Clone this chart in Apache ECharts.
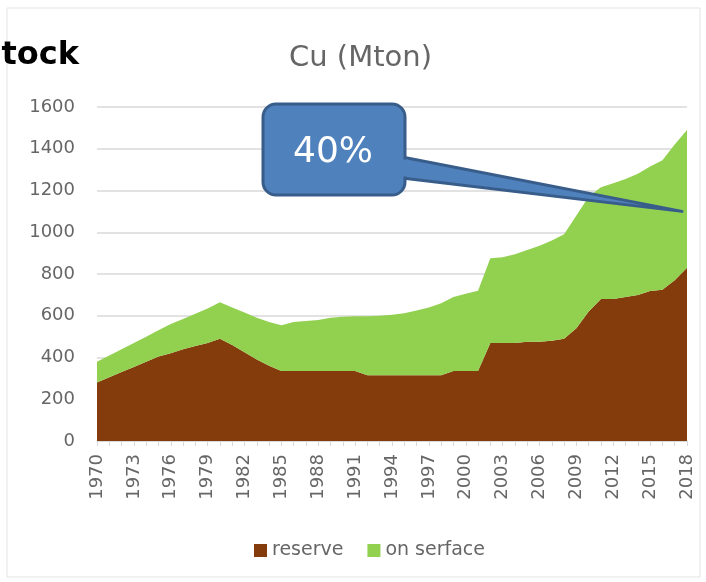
<!DOCTYPE html>
<html>
<head>
<meta charset="utf-8">
<script src="https://cdn.jsdelivr.net/npm/echarts@6/dist/echarts.min.js"></script>
<style>
html,body{margin:0;padding:0;background:#fff;}
#chart{width:706px;height:582px;}
</style>
</head>
<body>
<div id="chart"></div>
<script>
var years = ['1970','1971','1972','1973','1974','1975','1976','1977','1978','1979',
  '1980','1981','1982','1983','1984','1985','1986','1987','1988','1989',
  '1990','1991','1992','1993','1994','1995','1996','1997','1998','1999',
  '2000','2001','2002','2003','2004','2005','2006','2007','2008','2009',
  '2010','2011','2012','2013','2014','2015','2016','2017','2018'];
var reserve = [280,305,330,355,380,405,420,440,455,470,
  490,460,425,390,360,335,335,335,335,335,
  335,335,315,315,315,315,315,315,315,335,
  335,335,470,470,470,475,475,480,490,540,
  620,680,680,690,700,718,725,770,830];
var onSurface = [100,105,110,115,120,125,140,145,155,165,
  175,180,190,200,210,220,235,240,245,255,
  260,263,283,285,290,297,310,325,345,355,
  370,385,405,410,425,440,460,480,500,540,
  550,535,555,565,580,597,620,650,660];
var yTicks = {min:0, max:1600, interval:200};
var titleText = 'Cu (Mton)';
var seriesNames = ['reserve','on serface'];
var calloutText = '40%';
var calloutYear = '2018';
var calloutValue = 1100;
var sideText = 'tock';

var chart = echarts.init(document.getElementById('chart'));
var font = '"DejaVu Sans", sans-serif';
var grey = '#666666';
chart.setOption({
  animation:false,
  backgroundColor:'#fff',
  title:{text:titleText,left:284,top:39,textStyle:{fontFamily:font,fontSize:29,fontWeight:'normal',color:grey}},
  grid:{left:97,right:19,top:107,bottom:141,containLabel:false},
  legend:{data:seriesNames,left:249,top:536,icon:'rect',itemWidth:13,itemHeight:13,itemGap:24,itemTextGap:5,
    textStyle:{fontFamily:font,fontSize:19,color:grey}},
  xAxis:{type:'category',data:years,boundaryGap:false,
    axisLine:{lineStyle:{color:'#d9d9d9'}},
    axisTick:{show:true,interval:0,length:5,lineStyle:{color:'#d9d9d9'}},
    axisLabel:{interval:2,rotate:90,fontFamily:font,fontSize:18,color:grey,margin:13}},
  yAxis:{type:'value',min:yTicks.min,max:yTicks.max,interval:yTicks.interval,
    axisLine:{show:false},axisTick:{show:false},
    splitLine:{lineStyle:{color:'#d9d9d9',width:1.5}},
    axisLabel:{fontFamily:font,fontSize:18,color:grey,margin:22,formatter:function(v){return String(v);}}},
  series:[
    {name:seriesNames[0],type:'line',stack:'t',data:reserve,symbol:'none',
      lineStyle:{width:0},itemStyle:{color:'#843C0C'},areaStyle:{color:'#843C0C',opacity:1}},
    {name:seriesNames[1],type:'line',stack:'t',data:onSurface,symbol:'none',
      lineStyle:{width:0},itemStyle:{color:'#92D050'},areaStyle:{color:'#92D050',opacity:1}}
  ]
});

var tip = chart.convertToPixel({xAxisIndex:0,yAxisIndex:0},[calloutYear,calloutValue]);
var fillC = '#4F81BD', strokeC = '#385D8A';
chart.setOption({
  graphic:[
    {type:'rect',shape:{x:7,y:8,width:693,height:569},style:{fill:'none',stroke:'#e3e3e3',lineWidth:1},z:0,silent:true},
    {type:'text',x:79,y:40,style:{text:sideText,fontFamily:font,fontSize:32,fontWeight:'bold',fill:'#000',align:'right',verticalAlign:'top'},z:100},
    {type:'polygon',shape:{points:[[402,157],[402,178],[tip[0]-5,tip[1]]]},style:{fill:fillC,stroke:strokeC,lineWidth:3,lineJoin:'round'},z:100},
    {type:'rect',shape:{x:263,y:104,width:142,height:91,r:13},style:{fill:fillC,stroke:strokeC,lineWidth:3},z:101},
    {type:'rect',shape:{x:400,y:159.5,width:8,height:17},style:{fill:fillC},z:102},
    {type:'text',x:333,y:153,style:{text:calloutText,fontFamily:font,fontSize:36,fill:'#fff',align:'center',verticalAlign:'middle'},z:103}
  ]
});
</script>
</body>
</html>
